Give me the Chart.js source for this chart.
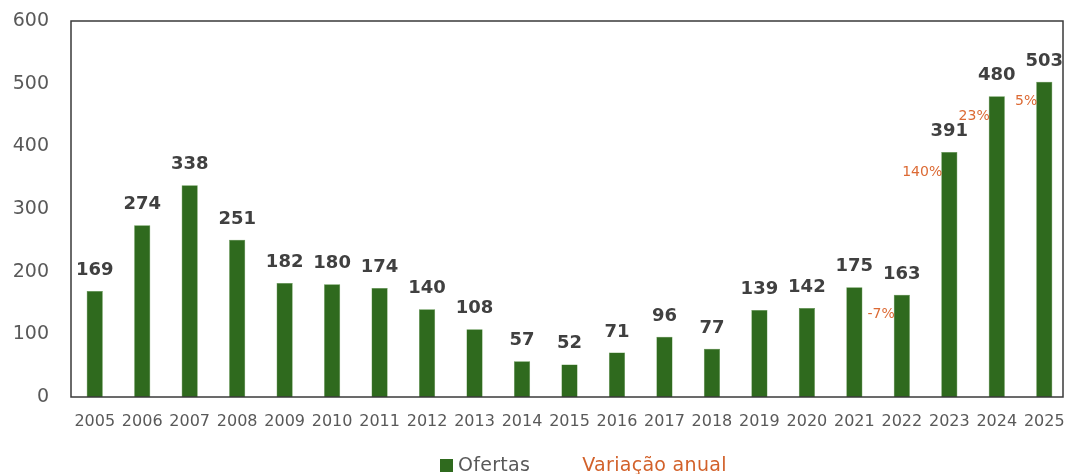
<!DOCTYPE html>
<html>
<head>
<meta charset="utf-8">
<script src="https://cdn.jsdelivr.net/npm/chart.js@4/dist/chart.umd.min.js"></script>
<style>
  html, body { margin: 0; padding: 0; background: #fff; }
  #wrap { position: relative; width: 1068px; height: 474px; }
  #legenda {
    position: absolute; top: 453px; left: 440px;
    font-family: "DejaVu Sans"; font-size: 19px; letter-spacing: 0.3px;
    white-space: nowrap; line-height: 22px;
  }
  #legenda .caixa { display: inline-block; width: 13px; height: 13px; background: #2f6a1e; margin-right: 5px; vertical-align: -1px; }
  #legenda .ofertas { color: #595959; }
  #legenda .variacao { color: #d2612a; margin-left: 52px; }
</style>
</head>
<body>
<div id="wrap">
  <canvas id="grafico"></canvas>
  <div id="legenda"><span class="caixa"></span><span class="ofertas">Ofertas</span><span class="variacao">Variação anual</span></div>
</div>
<script>
// Dados
const anos = ['2005', '2006', '2007', '2008', '2009', '2010', '2011', '2012', '2013', '2014', '2015',
    '2016', '2017', '2018', '2019', '2020', '2021', '2022', '2023', '2024', '2025'];
const ofertas = [169, 274, 338, 251, 182, 180, 174, 140, 108, 57, 52, 71, 96, 77, 139, 142, 175, 163, 391, 480, 503];
// Variação anual (só aparece nos últimos anos)
const variacao = [null, null, null, null, null, null, null, null, null, null, null,
    null, null, null, null, null, null, -7, 140, 23, 5];
const yTicks = [0, 100, 200, 300, 400, 500, 600];

const verde = '#2f6a1e';
const laranja = '#dc6a34';

// Plugin para os rótulos e a moldura do gráfico
const rotulosPlugin = {
    id: 'rotulos',
    afterDatasetsDraw(chart) {
        const ctx = chart.ctx;
        const meta = chart.getDatasetMeta(0);
        ctx.save();
        meta.data.forEach((bar, i) => {
            // valor acima da barra
            ctx.font = 'bold 18px "DejaVu Sans"';
            ctx.fillStyle = '#404040';
            ctx.textAlign = 'center';
            ctx.textBaseline = 'alphabetic';
            ctx.fillText(String(ofertas[i]), bar.x, bar.y - 16);

            // variação anual à esquerda da barra
            if (variacao[i] !== null) {
                ctx.font = '14px "DejaVu Sans"';
                ctx.fillStyle = laranja;
                ctx.textAlign = 'right';
                ctx.textBaseline = 'middle';
                ctx.fillText(variacao[i] + '%', bar.x - bar.width / 2 + 1, bar.y + 20);
            }
        });

        // moldura da área do gráfico
        const a = chart.chartArea;
        ctx.strokeStyle = '#3a3a3a';
        ctx.lineWidth = 1.5;
        ctx.strokeRect(a.left, a.top, a.right - 5 - a.left, a.bottom - a.top);
        ctx.restore();
    }
};

var ctx = document.getElementById('grafico').getContext('2d');
var grafico = new Chart(ctx, {
    type: 'bar',
    data: {
        labels: anos,
        datasets: [
            {
                label: 'Ofertas',
                data: ofertas,
                backgroundColor: verde,
                borderColor: '#4f8a3a',
                borderWidth: 0.5,
                categoryPercentage: 1,
                barPercentage: 0.34,
            },
        ],
    },
    options: {
        responsive: true,
        maintainAspectRatio: false,
        animation: false,
        layout: {
            padding: { top: 21, right: 0, bottom: 32, left: 0 },
        },
        plugins: {
            tooltip: { enabled: false },
            legend: { display: false },
        },
        scales: {
            x: {
                grid: { display: false, drawTicks: false },
                border: { display: false },
                ticks: {
                    color: '#595959',
                    font: { family: '"DejaVu Sans"', size: 16 },
                    padding: 15,
                    maxRotation: 0,
                    autoSkip: false,
                },
                afterFit: function (scale) {
                    scale.height = 45;
                    scale.paddingLeft = 0;
                    scale.paddingRight = 0;
                },
            },
            y: {
                min: 0,
                max: 600,
                grid: { display: false, drawTicks: false },
                border: { display: false },
                afterBuildTicks: function (scale) {
                    scale.ticks = yTicks.map(v => ({ value: v }));
                },
                ticks: {
                    color: '#595959',
                    font: { family: '"DejaVu Sans"', size: 19 },
                    padding: 22,
                },
                afterFit: function (scale) {
                    scale.width = 71;
                    scale.paddingTop = 0;
                    scale.paddingBottom = 0;
                },
            },
        },
    },
    plugins: [rotulosPlugin],
});
</script>
</body>
</html>
